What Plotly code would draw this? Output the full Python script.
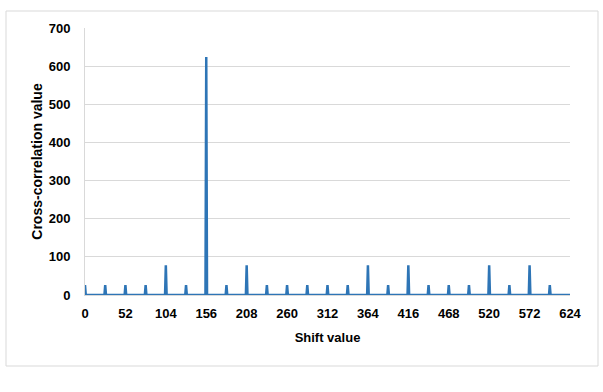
import plotly.graph_objects as go

# Spike positions (shift values) and their cross-correlation heights
spike_shifts = [0, 26, 52, 78, 104, 130, 156, 182, 208, 234, 260, 286, 312,
                338, 364, 390, 416, 442, 468, 494, 520, 546, 572, 598]
spike_values = [26, 26, 26, 26, 78, 26, 624, 26, 78, 26, 26, 26, 26,
                26, 78, 26, 78, 26, 26, 26, 78, 26, 78, 26]
max_shift = 624
tick_vals = [0, 52, 104, 156, 208, 260, 312, 364, 416, 468, 520, 572, 624]
y_ticks = [0, 100, 200, 300, 400, 500, 600, 700]

# full series: zero between the spikes
shifts = list(range(max_shift + 1))
lookup = dict(zip(spike_shifts, spike_values))
values = [lookup.get(s, 0) for s in shifts]

fig = go.Figure()
fig.add_trace(go.Scatter(
    x=shifts, y=values, mode="lines",
    line=dict(color="#2E75B6", width=2.5),
    hoverinfo="x+y", showlegend=False,
))

W, H = 603, 392
L, R, T, B = 85, 33, 28, 97
pw, ph = W - L - R, H - T - B

def px_x(p):
    return (p - L) / pw

def px_y(p):
    return (H - B - p) / ph

fig.add_shape(type="rect", xref="paper", yref="paper",
              x0=px_x(6), x1=px_x(598), y0=px_y(366), y1=px_y(11),
              line=dict(color="#d9d9d9", width=1), fillcolor="rgba(0,0,0,0)",
              layer="below")

font_b = "Liberation Sans, Arial, sans-serif"
fig.update_layout(
    width=W, height=H,
    margin=dict(l=L, r=R, t=T, b=B, pad=0),
    paper_bgcolor="white", plot_bgcolor="white",
    font=dict(family=font_b, size=13, color="#000000"),
    xaxis=dict(
        range=[0, max_shift], tickmode="array", tickvals=tick_vals,
        ticktext=[f"<b>{v}</b>" for v in tick_vals],
        showgrid=False, zeroline=False,
        showline=True, linecolor="#d9d9d9", linewidth=1,
        ticks="", ticklabelstandoff=6,
        title=dict(text="<b>Shift value</b>", font=dict(size=13), standoff=13),
        tickfont=dict(size=13),
    ),
    yaxis=dict(
        range=[0, 700], tickmode="array", tickvals=y_ticks,
        ticktext=[f"<b>{v}</b>" for v in y_ticks],
        showgrid=True, gridcolor="#d9d9d9", gridwidth=1,
        zeroline=False, showline=True, linecolor="#d9d9d9", linewidth=1,
        ticks="", ticklabelstandoff=11,
        title=dict(text="<b>Cross-correlation value</b>", font=dict(size=14), standoff=2),
        tickfont=dict(size=13),
    ),
)

fig.write_html("out.html")
